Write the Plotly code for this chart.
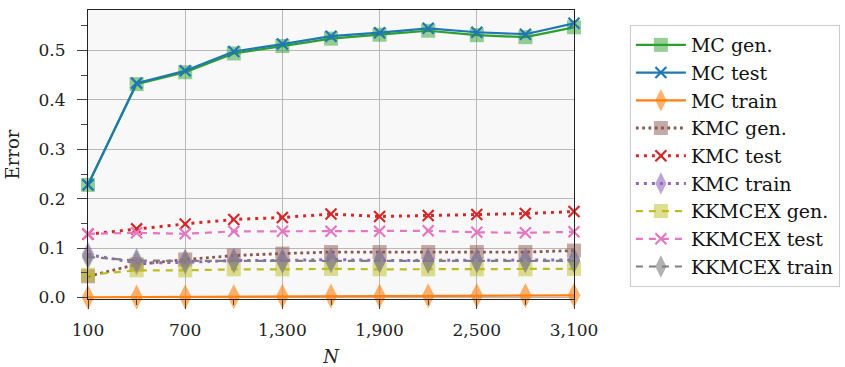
import plotly.graph_objects as go

N = [100, 400, 700, 1000, 1300, 1600, 1900, 2200, 2500, 2800, 3100]

mc_gen = [0.228, 0.432, 0.456, 0.494, 0.509, 0.524, 0.532, 0.540, 0.531, 0.527, 0.547]
mc_test = [0.228, 0.434, 0.459, 0.498, 0.513, 0.529, 0.536, 0.545, 0.537, 0.533, 0.555]
mc_train = [0.0005, 0.001, 0.0015, 0.002, 0.0025, 0.003, 0.003, 0.0035, 0.004, 0.004, 0.0045]

kmc_gen = [0.043, 0.067, 0.077, 0.085, 0.089, 0.092, 0.092, 0.092, 0.092, 0.092, 0.095]
kmc_test = [0.128, 0.139, 0.149, 0.158, 0.162, 0.169, 0.164, 0.166, 0.168, 0.170, 0.174]
kmc_train = [0.087, 0.070, 0.071, 0.075, 0.075, 0.077, 0.075, 0.075, 0.075, 0.076, 0.076]

kk_gen = [0.046, 0.055, 0.055, 0.057, 0.057, 0.058, 0.057, 0.057, 0.057, 0.057, 0.058]
kk_test = [0.129, 0.131, 0.129, 0.134, 0.134, 0.134, 0.134, 0.135, 0.132, 0.131, 0.133]
kk_train = [0.082, 0.075, 0.074, 0.074, 0.073, 0.074, 0.074, 0.073, 0.074, 0.074, 0.074]

names = ["MC gen.", "MC test", "MC train", "KMC gen.", "KMC test", "KMC train",
         "KKMCEX gen.", "KKMCEX test", "KKMCEX train"]
series = [mc_gen, mc_test, mc_train, kmc_gen, kmc_test, kmc_train, kk_gen, kk_test, kk_train]
colors = ["#2ca02c", "#1f77b4", "#ff7f0e", "#8c564b", "#d62728", "#9467bd",
          "#bcbd22", "#e377c2", "#7f7f7f"]
dashes = ["solid", "solid", "solid", "2.8px,3.5px", "3px,5px", "3px,5px",
          "7px,6px", "7px,6px", "7px,6px"]
widths = [2.2, 2.2, 2.2, 2.8, 3.0, 3.0, 2.2, 2.2, 2.2]
kinds = ["gen", "test", "train"] * 3

FONT = "DejaVu Serif"


def rgba(hexc, a):
    h = hexc.lstrip("#")
    r, g, b = int(h[0:2], 16), int(h[2:4], 16), int(h[4:6], 16)
    return f"rgba({r},{g},{b},{a})"


fig = go.Figure()
for i, (nm, ys, c, d, w, k) in enumerate(zip(names, series, colors, dashes, widths, kinds)):
    if k == "gen":
        marker = dict(symbol="square", size=14, color=rgba(c, 0.5), line=dict(width=0))
    elif k == "test":
        marker = dict(symbol="x-thin", size=11, color=c, line=dict(width=2.2, color=c))
    else:
        marker = dict(symbol="diamond-tall", size=18, color=rgba(c, 0.6), line=dict(width=0))
    fig.add_trace(go.Scatter(
        x=N, y=ys, name=nm, mode="lines+markers",
        line=dict(color=c, width=w, dash=d),
        marker=marker, cliponaxis=False, legendgroup=f"g{i}",
    ))

fig.update_layout(
    width=845, height=367, autosize=False,
    margin=dict(l=88, r=271, t=10, b=68, autoexpand=False),
    paper_bgcolor="white", plot_bgcolor="#f8f8f8",
    font=dict(family=FONT, size=17, color="#222"),
    showlegend=True,
    legend=dict(
        x=1.115, y=0.948, xanchor="left", yanchor="top",
        bgcolor="white", bordercolor="#cccccc", borderwidth=1,
        font=dict(family=FONT, size=19, color="#111"),
        tracegroupgap=0, itemwidth=50,
    ),
)

fig.update_xaxes(
    range=[100, 3100], tickvals=[100, 700, 1300, 1900, 2500, 3100],
    tickformat=",d", showgrid=True, gridcolor="#b8b8b8", gridwidth=1,
    showline=True, linecolor="#222", linewidth=1.2, mirror=True,
    ticks="outside", ticklen=9, tickcolor="#444", tickwidth=1,
    minor=dict(tickvals=[400, 1000, 1600, 2200, 2800], ticks="outside", ticklen=5, tickcolor="#444", showgrid=False),
    zeroline=False, ticklabelstandoff=6, automargin=False,
    title=dict(text="<i>N</i>", font=dict(family=FONT, size=18), standoff=14),
)
fig.update_yaxes(
    range=[-0.003, 0.582], tickvals=[0, 0.1, 0.2, 0.3, 0.4, 0.5], tickformat=".1f",
    showgrid=True, gridcolor="#b8b8b8", gridwidth=1,
    showline=True, linecolor="#222", linewidth=1.2, mirror=True,
    ticks="outside", ticklen=10, tickcolor="#444", tickwidth=1,
    minor=dict(tickvals=[0.05, 0.15, 0.25, 0.35, 0.45, 0.55], ticks="outside", ticklen=6, tickcolor="#444", showgrid=False),
    zeroline=False, ticklabelstandoff=8, automargin=False,
    title=dict(text="Error", font=dict(family=FONT, size=18), standoff=14),
)

fig.write_html("out.html")
